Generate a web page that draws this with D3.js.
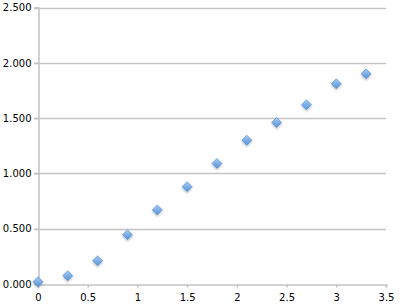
<!DOCTYPE html>
<html>
<head>
<meta charset="utf-8">
<script src="https://cdn.jsdelivr.net/npm/d3@7"></script>
<style>
  body { margin: 0; background: #fff; }
  .tick text { font-family: "DejaVu Sans", sans-serif; font-size: 10px; fill: #000; }
</style>
</head>
<body>
<svg id="chart"></svg>
<script>
let xValues = [0, 0.3, 0.6, 0.9, 1.2, 1.5, 1.8, 2.1, 2.4, 2.7, 3.0, 3.3];
let yValues = [0.02, 0.075, 0.21, 0.445, 0.67, 0.88, 1.09, 1.30, 1.46, 1.62, 1.81, 1.90];
let xTicks = [0, 0.5, 1, 1.5, 2, 2.5, 3, 3.5];
let yTicks = [0, 0.5, 1, 1.5, 2, 2.5];

let width = 402, height = 307;
let margin = { top: 7.5, right: 16, bottom: 23, left: 38 };

let svg = d3.select('#chart')
  .attr('width', width)
  .attr('height', height);

let xScale = d3.scaleLinear()
  .domain([0, 3.5])
  .range([margin.left, width - margin.right]);

let yScale = d3.scaleLinear()
  .domain([0, 2.5])
  .range([height - margin.bottom, margin.top]);

let defs = svg.append('defs');
let grad = defs.append('linearGradient')
  .attr('id', 'mk').attr('x1', 0).attr('y1', 0).attr('x2', 0).attr('y2', 1);
grad.append('stop').attr('offset', '0%').attr('stop-color', '#a6cbf2');
grad.append('stop').attr('offset', '100%').attr('stop-color', '#5592d8');
let flt = defs.append('filter').attr('id', 'sh').attr('x', '-50%').attr('y', '-50%').attr('width', '200%').attr('height', '200%');
flt.append('feDropShadow').attr('dx', 0).attr('dy', 1.5).attr('stdDeviation', 1).attr('flood-color', '#000').attr('flood-opacity', 0.25);

// gridlines
svg.append('g')
  .selectAll('line')
  .data(yTicks.filter(d => d > 0))
  .enter()
  .append('line')
  .attr('x1', margin.left - 4)
  .attr('x2', width - margin.right)
  .attr('y1', d => Math.round(yScale(d)) + 0.5)
  .attr('y2', d => Math.round(yScale(d)) + 0.5)
  .attr('stroke', '#c4c4c4')
  .attr('stroke-width', 1.5);

// y axis
let yAxis = svg.append('g')
  .attr('transform', `translate(${margin.left + 0.5},0)`)
  .call(d3.axisLeft(yScale).tickValues(yTicks).tickFormat(d3.format('.3f')).tickSize(4).tickPadding(3));

// x axis
let xAxis = svg.append('g')
  .attr('transform', `translate(0,${Math.round(yScale(0)) + 0.5})`)
  .call(d3.axisBottom(xScale).tickValues(xTicks).tickFormat(d3.format('')).tickSize(3).tickPadding(6));

[yAxis, xAxis].forEach(a => {
  a.select('.domain').attr('stroke', '#c4c4c4').attr('stroke-width', 1.5);
  a.selectAll('.tick line').attr('stroke', '#c4c4c4').attr('stroke-width', 1.5);
});

// markers
let pts = xValues.map((x, i) => ({ x: x, y: yValues[i] }));
svg.append('g')
  .selectAll('path')
  .data(pts)
  .enter()
  .append('path')
  .attr('d', d3.symbol().type(d3.symbolDiamond2).size(64))
  .attr('transform', d => `translate(${xScale(d.x)},${yScale(d.y)})`)
  .attr('fill', 'url(#mk)')
  .attr('stroke', '#4a86cc')
  .attr('stroke-width', 0.6)
  .attr('filter', 'url(#sh)');
</script>
</body>
</html>
